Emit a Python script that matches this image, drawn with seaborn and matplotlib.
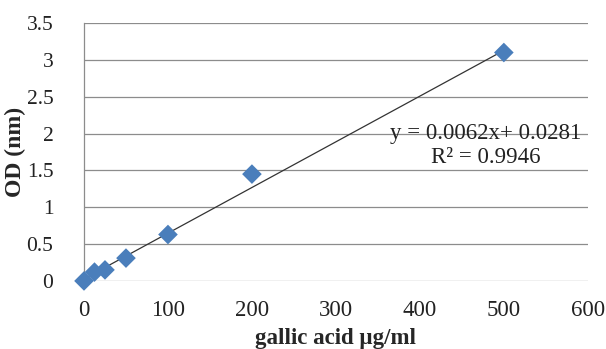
import matplotlib
matplotlib.use("Agg")
import matplotlib.pyplot as plt
import seaborn as sns
import numpy as np
import pandas as pd

# Gallic acid standard curve
concentration = [0, 12.5, 25, 50, 100, 200, 500]
absorbance = [0.0, 0.12, 0.15, 0.31, 0.63, 1.45, 3.10]
slope = 0.0062
intercept = 0.0281
r_squared = 0.9946
x_ticks = [0, 100, 200, 300, 400, 500, 600]
y_ticks = [0, 0.5, 1, 1.5, 2, 2.5, 3, 3.5]

df = pd.DataFrame({"conc": concentration, "od": absorbance})

sns.set_style("white")
plt.rcParams["font.family"] = ["Liberation Serif", "DejaVu Serif"]

fig = plt.figure(figsize=(6.06, 3.49), dpi=100)
ax = fig.add_axes([0.1386, 0.195, 0.8314, 0.739])

ax.set_xlim(0, 600)
ax.set_ylim(0, 3.5)
ax.set_xticks(x_ticks)
ax.set_yticks(y_ticks)
ax.set_xticklabels([str(v) for v in x_ticks])
ax.set_yticklabels([f"{v:g}" for v in y_ticks])
ax.grid(axis="y", color="#8c8c8c", linewidth=0.9)
ax.set_axisbelow(True)
for s in ["top", "right", "bottom"]:
    ax.spines[s].set_visible(False)
ax.spines["left"].set_color("#8c8c8c")
ax.spines["left"].set_linewidth(0.9)
ax.tick_params(axis="x", length=0, labelsize=16.5, colors="#222222", pad=14)
ax.tick_params(axis="y", length=0, labelsize=15.5, colors="#222222", pad=22)

# fitted trend line
fit_x = np.array([concentration[0], concentration[-1]])
ax.plot(fit_x, slope * fit_x + intercept, color="#333333", linewidth=0.9, zorder=2)

sns.scatterplot(data=df, x="conc", y="od", marker="D", s=100, color="#4A7EBB",
                edgecolor="none", ax=ax, zorder=3, clip_on=False)

ax.text(478, 1.84, f"y = {slope}x+ {intercept}\nR² = {r_squared}",
        ha="center", va="center", fontsize=16.5, color="#222222", linespacing=1.15)

ax.set_xlabel("gallic acid µg/ml", fontsize=16.5, fontweight="bold", labelpad=5)
ax.set_ylabel("OD (nm)", fontsize=17, fontweight="bold")
ax.yaxis.set_label_coords(-0.116, 0.5)

fig.savefig("out.png", dpi=100, facecolor="white")
